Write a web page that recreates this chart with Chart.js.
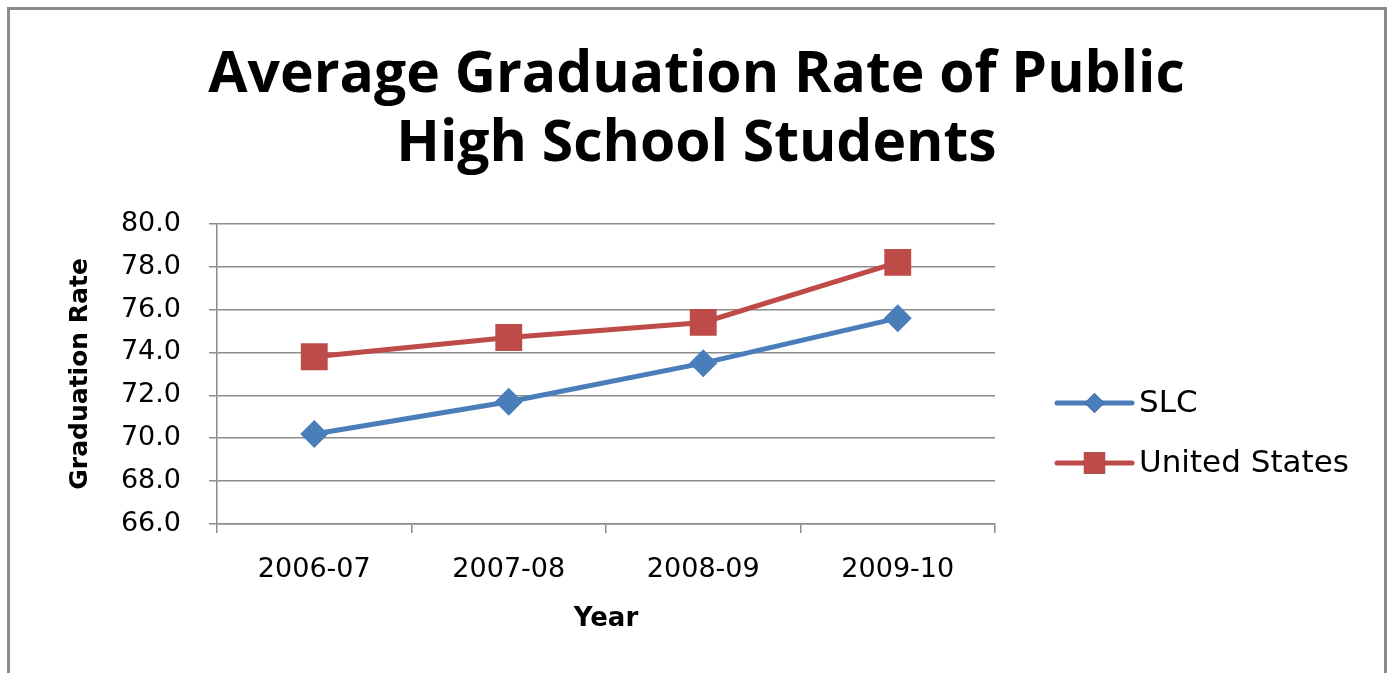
<!DOCTYPE html>
<html>
<head>
<meta charset="utf-8">
<script src="https://cdn.jsdelivr.net/npm/chart.js@4/dist/chart.umd.min.js"></script>
<style>
  html, body { margin: 0; padding: 0; background: #fff; overflow: hidden; }
  #frame { position: absolute; left: 7px; top: 7px; width: 1380px; height: 700px; border: 3px solid #8c8c8c; box-sizing: border-box; }
  #wrap { position: absolute; left: 0; top: 0; width: 1393px; height: 673px; }
</style>
</head>
<body>
<div id="frame"></div>
<div id="wrap"><canvas id="gradChart"></canvas></div>
<script>
// values
const years = ['2006-07', '2007-08', '2008-09', '2009-10'];
const slcRate = [70.2, 71.7, 73.5, 75.6];
const usRate = [73.8, 74.7, 75.4, 78.2];
const yTicks = [66, 68, 70, 72, 74, 76, 78, 80];

const FONT = "'DejaVu Sans', sans-serif";
const TITLE_FONT = "'Open Sans', 'DejaVu Sans', sans-serif";
const PLOT_LEFT = 217, PLOT_RIGHT = 995, PLOT_BOTTOM = 524, BOTTOM_PAD = 20;

// legend drawn by hand: line with marker, like the spreadsheet legend
const lineLegend = {
    id: 'lineLegend',
    afterDraw(chart) {
        const ctx = chart.ctx;
        const x0 = 1057, x1 = 1132, rows = [403, 463];
        chart.data.datasets.forEach((ds, i) => {
            const y = rows[i];
            ctx.save();
            ctx.strokeStyle = ds.borderColor;
            ctx.lineWidth = 5;
            ctx.lineCap = 'round';
            ctx.beginPath();
            ctx.moveTo(x0, y);
            ctx.lineTo(x1, y);
            ctx.stroke();
            Chart.helpers.drawPoint(ctx, {
                pointStyle: ds.pointStyle,
                radius: i === 0 ? 10 : 15,
                borderWidth: 0
            }, (x0 + x1) / 2, y);
            ctx.fillStyle = ds.backgroundColor;
            ctx.fill();
            ctx.fillStyle = '#000';
            ctx.font = '31px ' + FONT;
            ctx.textBaseline = 'middle';
            ctx.fillText(ds.label, x1 + 7, y + 1);
            ctx.restore();
        });
    }
};

const ctx = document.getElementById('gradChart').getContext('2d');
new Chart(ctx, {
    type: 'line',
    data: {
        labels: years,
        datasets: [{
            label: 'SLC',
            data: slcRate,
            borderColor: '#4A7EBB',
            backgroundColor: '#4A7EBB',
            borderWidth: 5,
            pointStyle: 'rectRot',
            pointRadius: 14,
            pointHoverRadius: 14,
            pointBorderWidth: 0,
            tension: 0
        }, {
            label: 'United States',
            data: usRate,
            borderColor: '#BE4B48',
            backgroundColor: '#BE4B48',
            borderWidth: 5,
            pointStyle: 'rect',
            pointRadius: 19,
            pointHoverRadius: 19,
            pointBorderWidth: 0,
            tension: 0
        }]
    },
    options: {
        responsive: true,
        maintainAspectRatio: false,
        animation: false,
        layout: { padding: { left: 0, right: 0, top: 0, bottom: BOTTOM_PAD } },
        scales: {
            x: {
                offset: true,
                afterFit: scale => { scale.height = 673 - BOTTOM_PAD - PLOT_BOTTOM; },
                grid: { offset: true, drawOnChartArea: false, color: '#8c8c8c', lineWidth: 1.5, tickLength: 9 },
                border: { color: '#8c8c8c', width: 1.5 },
                ticks: { color: '#000', font: { family: FONT, size: 27 }, padding: 21 },
                title: { display: true, text: 'Year', color: '#000', font: { family: FONT, size: 26, weight: 'bold' }, padding: { top: 0, bottom: 18 } }
            },
            y: {
                min: 66,
                max: 80,
                afterBuildTicks: scale => { scale.ticks = yTicks.map(v => ({ value: v })); },
                afterFit: scale => { scale.width = PLOT_LEFT; },
                grid: { color: '#8c8c8c', lineWidth: 1.5, tickLength: 8 },
                border: { color: '#8c8c8c', width: 1.5 },
                ticks: { color: '#000', font: { family: FONT, size: 27 }, padding: 28, callback: v => v.toFixed(1) },
                title: { display: true, text: 'Graduation Rate', color: '#000', font: { family: FONT, size: 25, weight: 'bold' }, padding: { top: 65, bottom: 0 } }
            },
            // empty right axis that only reserves room for the legend
            spacer: {
                type: 'linear',
                position: 'right',
                afterFit: scale => { scale.width = 1393 - PLOT_RIGHT; },
                ticks: { display: false },
                grid: { display: false },
                border: { display: false }
            }
        },
        plugins: {
            legend: { display: false },
            tooltip: { enabled: false },
            title: {
                display: true,
                text: ['Average Graduation Rate of Public', 'High School Students'],
                color: '#000',
                font: { family: TITLE_FONT, size: 57, weight: 'bold', lineHeight: 1.2 },
                padding: { top: 42, bottom: 45 }
            }
        }
    },
    plugins: [lineLegend]
});
</script>
</body>
</html>
